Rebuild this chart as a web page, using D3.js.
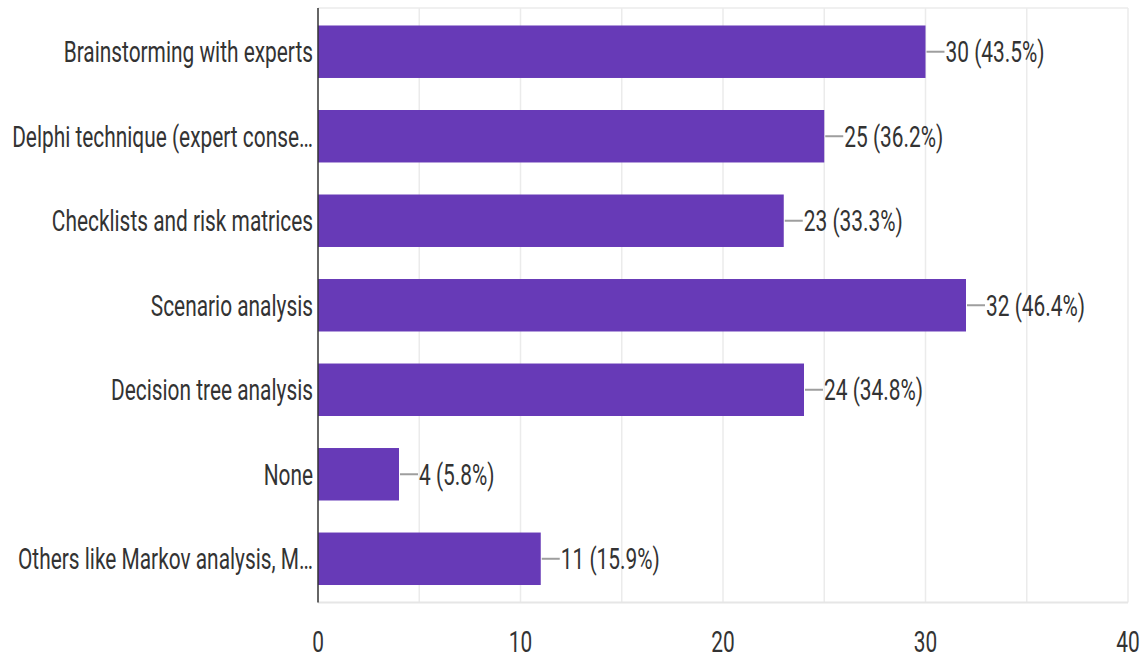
<!DOCTYPE html>
<html><head><meta charset="utf-8">
<script src="https://cdn.jsdelivr.net/npm/d3@7"></script>
<style>
html,body{margin:0;padding:0;background:#fff;}
svg{display:block;}
text{font-family:Roboto, "Noto Sans", sans-serif;fill:#333;font-weight:400;}
</style></head>
<body>
<svg id="c" width="1144" height="659"></svg>
<script>
const categories = [
  "Brainstorming with experts",
  "Delphi technique (expert conse…",
  "Checklists and risk matrices",
  "Scenario analysis",
  "Decision tree analysis",
  "None",
  "Others like Markov analysis, M…"
];
const counts = [30, 25, 23, 32, 24, 4, 11];
const percents = ["43.5%", "36.2%", "33.3%", "46.4%", "34.8%", "5.8%", "15.9%"];
const xTicks = [0, 10, 20, 30, 40];
const gridValues = [5, 10, 15, 20, 25, 30, 35, 40];

const S = 0.72; // horizontal squeeze of the text
const svg = d3.select("#c");
const mLeft = 318, mRight = 1128, mTop = 8, mBottom = 602.5;

const x = d3.scaleLinear().domain([0, 40]).range([mLeft, mRight]);
const y = d3.scaleBand().domain(categories).range([mTop, mBottom]).paddingInner(0.379).paddingOuter(0.207);

// grid
svg.append("g").selectAll("line").data(gridValues).join("line")
  .attr("x1", d => x(d)).attr("x2", d => x(d))
  .attr("y1", mTop).attr("y2", mBottom)
  .attr("stroke", "#ebebeb").attr("stroke-width", 1.5);
svg.append("line").attr("x1", mLeft).attr("x2", mRight).attr("y1", mTop).attr("y2", mTop)
  .attr("stroke", "#ebebeb").attr("stroke-width", 1.5);
svg.append("line").attr("x1", mLeft).attr("x2", mRight).attr("y1", mBottom).attr("y2", mBottom)
  .attr("stroke", "#e6e6e6").attr("stroke-width", 2);

const data = categories.map((c, i) => ({c, v: counts[i], p: percents[i]}));

// bars
svg.append("g").selectAll("rect").data(data).join("rect")
  .attr("x", x(0)).attr("y", d => y(d.c))
  .attr("width", d => x(d.v) - x(0)).attr("height", y.bandwidth())
  .attr("fill", "#673ab7");

// connector lines
svg.append("g").selectAll("line").data(data).join("line")
  .attr("x1", d => x(d.v) + 1).attr("x2", d => x(d.v) + 19)
  .attr("y1", d => y(d.c) + y.bandwidth() / 2).attr("y2", d => y(d.c) + y.bandwidth() / 2)
  .attr("stroke", "#9e9e9e").attr("stroke-width", 2);

// value labels
svg.append("g").selectAll("g").data(data).join("g")
  .attr("transform", d => `translate(${x(d.v) + 20},${y(d.c) + y.bandwidth() / 2}) scale(${S},1)`)
  .append("text").attr("dy", "0.36em").attr("font-size", 29)
  .text(d => `${d.v} (${d.p})`);

// category labels
svg.append("g").selectAll("g").data(data).join("g")
  .attr("transform", d => `translate(${mLeft - 5},${y(d.c) + y.bandwidth() / 2}) scale(${S},1)`)
  .append("text").attr("dy", "0.36em").attr("font-size", 29).attr("text-anchor", "end")
  .text(d => d.c);

// axis line
svg.append("line").attr("x1", mLeft).attr("x2", mLeft).attr("y1", mTop).attr("y2", mBottom)
  .attr("stroke", "#333").attr("stroke-width", 1.5);

// x tick labels
svg.append("g").selectAll("g").data(xTicks).join("g")
  .attr("transform", d => `translate(${x(d)},652) scale(${S},1)`)
  .append("text").attr("font-size", 29).attr("text-anchor", "middle")
  .text(d => d);
</script>
</body></html>
